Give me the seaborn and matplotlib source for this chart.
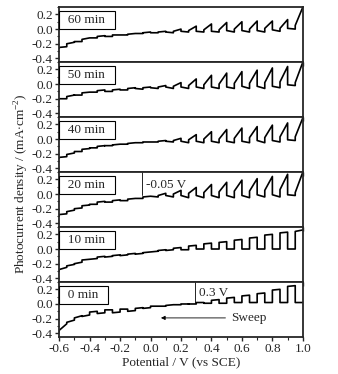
import numpy as np
import pandas as pd
import matplotlib
matplotlib.use("Agg")
import matplotlib.pyplot as plt
from matplotlib.ticker import MultipleLocator
import seaborn as sns

# ---- data ----
panels = ["60 min", "50 min", "40 min", "20 min", "10 min", "0 min"]
sweep_end = [1.0, 1.0, 1.0, 1.0, 1.0, 1.05]   # potential where last light-on ends
chop_period = 0.1                               # V per light on/off cycle

# per chop cycle (left to right): dark at off start, dip at off end,
# light at on start, spike at on end  (mA cm^-2)
dark_60  = [-0.30,-0.25,-0.17,-0.12,-0.10,-0.08,-0.06,-0.05,-0.04,-0.03,-0.03,-0.03,-0.02,-0.02,-0.02,-0.01, 0.01]
dip_60   = [-0.29,-0.24,-0.17,-0.12,-0.10,-0.08,-0.06,-0.05,-0.05,-0.04,-0.04,-0.04,-0.04,-0.04,-0.04,-0.03, 0.00]
light_60 = [-0.28,-0.20,-0.14,-0.10,-0.08,-0.07,-0.05,-0.04,-0.03,-0.02,-0.01,-0.01, 0.00, 0.00, 0.01, 0.01, 0.05]
spike_60 = [-0.26,-0.18,-0.12,-0.09,-0.08,-0.06,-0.04,-0.03, 0.00, 0.04, 0.07, 0.09, 0.10, 0.11, 0.11, 0.13, 0.30]

dark_50  = [-0.25,-0.20,-0.15,-0.11,-0.10,-0.08,-0.06,-0.05,-0.04,-0.04,-0.04,-0.04,-0.04,-0.03,-0.03,-0.03,-0.01]
dip_50   = [-0.24,-0.20,-0.15,-0.11,-0.10,-0.08,-0.07,-0.06,-0.06,-0.06,-0.06,-0.06,-0.06,-0.06,-0.06,-0.05,-0.02]
light_50 = [-0.23,-0.17,-0.12,-0.09,-0.08,-0.06,-0.05,-0.04,-0.03,-0.02,-0.01, 0.00, 0.01, 0.01, 0.02, 0.03, 0.02]
spike_50 = [-0.21,-0.15,-0.11,-0.08,-0.07,-0.05,-0.04,-0.02, 0.02, 0.07, 0.12, 0.15, 0.17, 0.19, 0.22, 0.24, 0.30]

dark_40  = [-0.30,-0.25,-0.17,-0.12,-0.09,-0.07,-0.05,-0.04,-0.03,-0.03,-0.03,-0.03,-0.03,-0.03,-0.02,-0.02,-0.01]
dip_40   = [-0.29,-0.24,-0.17,-0.12,-0.09,-0.07,-0.05,-0.04,-0.04,-0.05,-0.05,-0.05,-0.05,-0.05,-0.05,-0.04,-0.02]
light_40 = [-0.28,-0.21,-0.14,-0.10,-0.08,-0.06,-0.04,-0.03,-0.02,-0.01, 0.00, 0.00, 0.01, 0.02, 0.02, 0.03, 0.03]
spike_40 = [-0.26,-0.19,-0.13,-0.09,-0.07,-0.05,-0.04,-0.02, 0.01, 0.06, 0.10, 0.13, 0.15, 0.17, 0.19, 0.22, 0.29]

dark_20  = [-0.35,-0.28,-0.20,-0.14,-0.11,-0.09,-0.06,-0.03,-0.02,-0.02,-0.02,-0.02,-0.02,-0.02,-0.01,-0.01,-0.01]
dip_20   = [-0.34,-0.27,-0.19,-0.14,-0.11,-0.09,-0.06,-0.04,-0.04,-0.05,-0.05,-0.05,-0.05,-0.05,-0.04,-0.04,-0.02]
light_20 = [-0.33,-0.24,-0.16,-0.11,-0.09,-0.07,-0.04,-0.02, 0.00, 0.01, 0.02, 0.03, 0.04, 0.04, 0.05, 0.06, 0.02]
spike_20 = [-0.30,-0.22,-0.15,-0.10,-0.08,-0.06,-0.03, 0.01, 0.05, 0.09, 0.13, 0.16, 0.19, 0.21, 0.24, 0.27, 0.30]

dark_10  = [-0.36,-0.28,-0.20,-0.14,-0.11,-0.09,-0.07,-0.04,-0.02,-0.01, 0.00, 0.00, 0.00, 0.00, 0.00, 0.00, 0.00]
dip_10   = [-0.34,-0.25,-0.18,-0.13,-0.10,-0.08,-0.06,-0.03,-0.01,-0.01, 0.00, 0.00, 0.00, 0.00, 0.00, 0.00, 0.00]
light_10 = [-0.33,-0.23,-0.15,-0.11,-0.09,-0.07,-0.05,-0.02, 0.01, 0.04, 0.07, 0.09, 0.12, 0.15, 0.19, 0.22, 0.24]
spike_10 = [-0.30,-0.21,-0.14,-0.10,-0.08,-0.06,-0.04,-0.01, 0.02, 0.05, 0.08, 0.10, 0.13, 0.16, 0.20, 0.23, 0.26]

dark_0   = [-0.40,-0.25,-0.17,-0.13,-0.12,-0.10,-0.06,-0.03,-0.01, 0.00, 0.01, 0.01, 0.02, 0.02, 0.02, 0.02, 0.02]
dip_0    = [-0.38,-0.22,-0.15,-0.12,-0.11,-0.09,-0.05,-0.03,-0.01, 0.00, 0.01, 0.01, 0.02, 0.02, 0.02, 0.02, 0.02]
light_0  = [-0.36,-0.19,-0.11,-0.08,-0.07,-0.06,-0.03,-0.02, 0.00, 0.02, 0.05, 0.08, 0.11, 0.14, 0.19, 0.24, 0.02]
spike_0  = [-0.27,-0.16,-0.10,-0.08,-0.07,-0.05,-0.03,-0.01, 0.00, 0.02, 0.06, 0.09, 0.12, 0.15, 0.20, 0.25, 0.02]

darks  = [dark_60, dark_50, dark_40, dark_20, dark_10, dark_0]
dips   = [dip_60, dip_50, dip_40, dip_20, dip_10, dip_0]
lights = [light_60, light_50, light_40, light_20, light_10, light_0]
spikes = [spike_60, spike_50, spike_40, spike_20, spike_10, spike_0]

y_ticks = [-0.4, -0.2, 0.0, 0.2]
x_ticks = [-0.6, -0.4, -0.2, 0.0, 0.2, 0.4, 0.6, 0.8, 1.0]

# ---- build tidy table ----
rows = []
for name, e_end, dk, dp, lt, sp in zip(panels, sweep_end, darks, dips, lights, spikes):
    n = len(dk)
    for k in range(n):
        on_end = e_end - (n - 1 - k) * chop_period
        on_start = on_end - chop_period / 2
        off_start = on_end - chop_period
        for x, y in [(off_start, dk[k]), (on_start, dp[k]), (on_start, lt[k]), (on_end, sp[k])]:
            rows.append({"panel": name, "E": x, "j": y})
df = pd.DataFrame(rows)

sns.set_style("ticks")
plt.rcParams["font.family"] = ["Liberation Serif", "DejaVu Serif"]
plt.rcParams["mathtext.fontset"] = "custom"
plt.rcParams["mathtext.rm"] = "Liberation Serif"

fig, axes = plt.subplots(len(panels), 1, figsize=(3.38, 3.74), dpi=100, sharex=True)
fig.subplots_adjust(left=0.175, right=0.896, top=0.981, bottom=0.099, hspace=0)

for ax, name in zip(axes, panels):
    sub = df[df["panel"] == name]
    sns.lineplot(data=sub, x="E", y="j", sort=False, estimator=None, ax=ax,
                 color="black", lw=1.2)
    ax.set_xlim(-0.6, 1.0)
    ax.set_ylim(-0.45, 0.3)
    ax.set_yticks(y_ticks)
    ax.set_yticklabels([f"{t:.1f}" for t in y_ticks])
    ax.yaxis.set_minor_locator(MultipleLocator(0.1))
    ax.xaxis.set_minor_locator(MultipleLocator(0.1))
    ax.tick_params(axis="both", which="major", direction="out", length=3, width=1, labelsize=9.5, pad=1.5)
    ax.tick_params(axis="both", which="minor", direction="out", length=1.8, width=0.8)
    ax.set_xlabel("")
    ax.set_ylabel("")
    for s in ax.spines.values():
        s.set_linewidth(1.3)
        s.set_visible(True)
    ax.text(-0.585, 0.125, "  " + name + "  ", fontsize=9.5, va="center", ha="left",
            bbox=dict(boxstyle="square,pad=0.22", fc="white", ec="black", lw=0.8))

axes[-1].set_xticks(x_ticks)
axes[-1].set_xticklabels([f"{t:.1f}" for t in x_ticks])
axes[-1].set_xlabel("Potential / V (vs SCE)", fontsize=9.5, labelpad=1)

# annotations
ax20 = axes[3]
ax20.plot([-0.055, -0.055], [0.3, -0.02], color="black", lw=0.6)
ax20.text(-0.03, 0.12, "-0.05 V", fontsize=9.5, va="center", ha="left")

ax0 = axes[5]
ax0.plot([0.29, 0.29], [0.3, 0.02], color="black", lw=0.6)
ax0.text(0.32, 0.15, "0.3 V", fontsize=9.5, va="center", ha="left")
ax0.annotate("", xy=(0.05, -0.19), xytext=(0.51, -0.19),
             arrowprops=dict(arrowstyle="-|>", color="black", lw=0.6,
                             mutation_scale=6))
ax0.text(0.53, -0.19, "Sweep", fontsize=9.5, va="center", ha="left")

fig.text(0.065, 0.51, "Photocurrent density / (mA$\\cdot$cm$^{-2}$)", rotation=90,
         fontsize=9.5, va="center", ha="center")

fig.savefig("out.png", dpi=100)
